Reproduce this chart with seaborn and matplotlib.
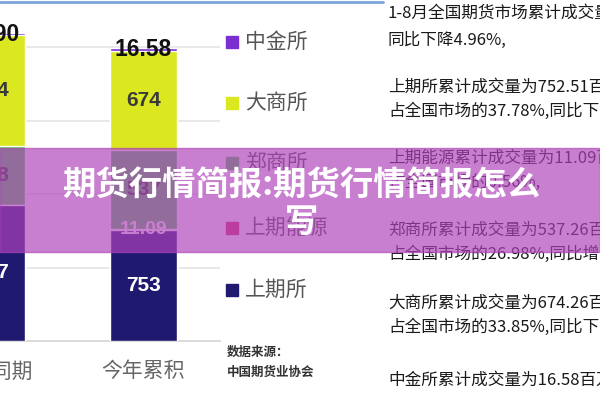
import matplotlib
matplotlib.use('Agg')
import matplotlib.pyplot as plt
import seaborn as sns
import numpy as np
import pandas as pd
from matplotlib.patches import Rectangle
from matplotlib.lines import Line2D

# data (百万手)
categories = ['去年同期', '今年累积']
exchanges = ['上期所', '上期能源', '郑商所', '大商所', '中金所']
shfe = [927, 753]
ine = [0, 11.09]
czce = [398, 537]
dce = [754, 674]
cffex = [17.90, 16.58]
labels_shfe = ['927', '753']
labels_ine = ['', '11.09']
labels_czce = ['398', '537']
labels_dce = ['754', '674']
labels_cffex = ['17.90', '16.58']
colors = ['#1f1a70', '#d6336c', '#55c45a', '#dbe81f', '#7b2fd0']

notes = [
    '1-8月全国期货市场累计成交量为19.92亿手,',
    '同比下降4.96%,',
    '',
    '上期所累计成交量为752.51百万手,',
    '占全国市场的37.78%,同比下降',
    '',
    '上期能源累计成交量为11.09百万手,',
    '占全国市场的0.56%,',
    '',
    '郑商所累计成交量为537.26百万手,',
    '占全国市场的26.98%,同比增长',
    '',
    '大商所累计成交量为674.26百万手,',
    '占全国市场的33.85%,同比下降',
    '',
    '中金所累计成交量为16.58百万手,',
]
note_y = [13, 40, None, 87, 111, None, 158, 182, None, 230, 254, None, 303, 327, None, 380]

title_lines = ['期货行情简报:期货行情简报怎么', '写']

sns.set_theme(style='white')
plt.rcParams['font.family'] = ['Noto Sans CJK SC', 'DejaVu Sans']

series = [shfe, ine, czce, dce, cffex]
texts = [labels_shfe, labels_ine, labels_czce, labels_dce, labels_cffex]
cum = np.cumsum(np.array(series, dtype=float), axis=0)

fig = plt.figure(figsize=(6, 4), dpi=100)
W, H = 600, 400
ppu = 0.147
ytop = 2300
ax = fig.add_axes([-84.5 / W, 59 / H, 304 / W, ytop * ppu / H])

# stacked bars: draw cumulative totals from top series down
for i in range(len(exchanges) - 1, -1, -1):
    df = pd.DataFrame({'cat': categories, 'val': cum[i]})
    sns.barplot(data=df, x='cat', y='val', color=colors[i], width=0.44,
                saturation=1, ax=ax, zorder=3)

label_style = {
    0: dict(color='white', fontsize=15, fontweight='bold'),
    1: dict(color='white', fontsize=14, fontweight='bold'),
    2: dict(color='#3a3a3a', fontsize=15, fontweight='bold'),
    3: dict(color='#3a3a3a', fontsize=15, fontweight='bold'),
    4: dict(color='#111111', fontsize=16.5, fontweight='bold'),
}
for i in range(len(exchanges)):
    for j in range(len(categories)):
        if not texts[i][j]:
            continue
        mid = cum[i][j] - series[i][j] / 2
        ax.text(j, mid, texts[i][j], ha='center', va='center', zorder=5,
                family='Liberation Sans', **label_style[i])

ax.set_xlim(-0.5, 1.5)
ax.set_ylim(0, ytop)
ax.set_xlabel('')
ax.set_ylabel('')
ax.set_yticks([500, 1000, 1500, 2000])
ax.set_yticklabels([])
ax.yaxis.grid(True, color='#e4e4e4', linewidth=1.2, zorder=0)
ax.tick_params(axis='y', length=0)
ax.set_xticks([0, 1])
ax.set_xticklabels(categories, fontsize=15, color='#666666')
ax.tick_params(axis='x', which='major', length=0, pad=14)
ax.set_xticks([0.5, 1.5], minor=True)
ax.tick_params(axis='x', which='minor', length=8, color='#d6d6d6', width=1)
for s in ['top', 'left', 'right']:
    ax.spines[s].set_visible(False)
ax.spines['bottom'].set_color('#d6d6d6')
ax.set_facecolor('white')

# legend, top to bottom
leg_y = [42, 103, 163, 228, 290]
for k, idx in enumerate([4, 3, 2, 1, 0]):
    y = leg_y[k]
    fig.add_artist(Rectangle((226 / W, 1 - (y + 6) / H), 12 / W, 12 / H,
                             color=colors[idx], transform=fig.transFigure))
    fig.text(245 / W, 1 - y / H, exchanges[idx], fontsize=15, color='#555555',
             va='center', ha='left')

fig.text(227 / W, 1 - 352 / H, '数据来源：', fontsize=9, color='#333333',
         va='center', fontweight='bold')
fig.text(227 / W, 1 - 372 / H, '中国期货业协会', fontsize=9, color='#333333',
         va='center', fontweight='bold')

for line, y in zip(notes, note_y):
    if y is None:
        continue
    fig.text(388 / W, 1 - y / H, line, fontsize=12, color='#1a1a1a',
             va='center', ha='left')

# top border line
fig.add_artist(Line2D([0, 383 / W], [1 - 1.5 / H, 1 - 1.5 / H], color='#7aa7d8',
                      linewidth=2, transform=fig.transFigure))

# title band
fig.add_artist(Rectangle((0, 1 - 252 / H), 1, 104 / H, color='#b043ba',
                         alpha=0.68, transform=fig.transFigure, zorder=10))
fig.text(301 / W, 1 - 185 / H, title_lines[0], fontsize=24, color='white',
         fontweight='bold', ha='center', va='center', zorder=11)
fig.text(302 / W, 1 - 222 / H, title_lines[1], fontsize=24, color='white',
         fontweight='bold', ha='center', va='center', zorder=11)

fig.savefig('out.png', dpi=100)
